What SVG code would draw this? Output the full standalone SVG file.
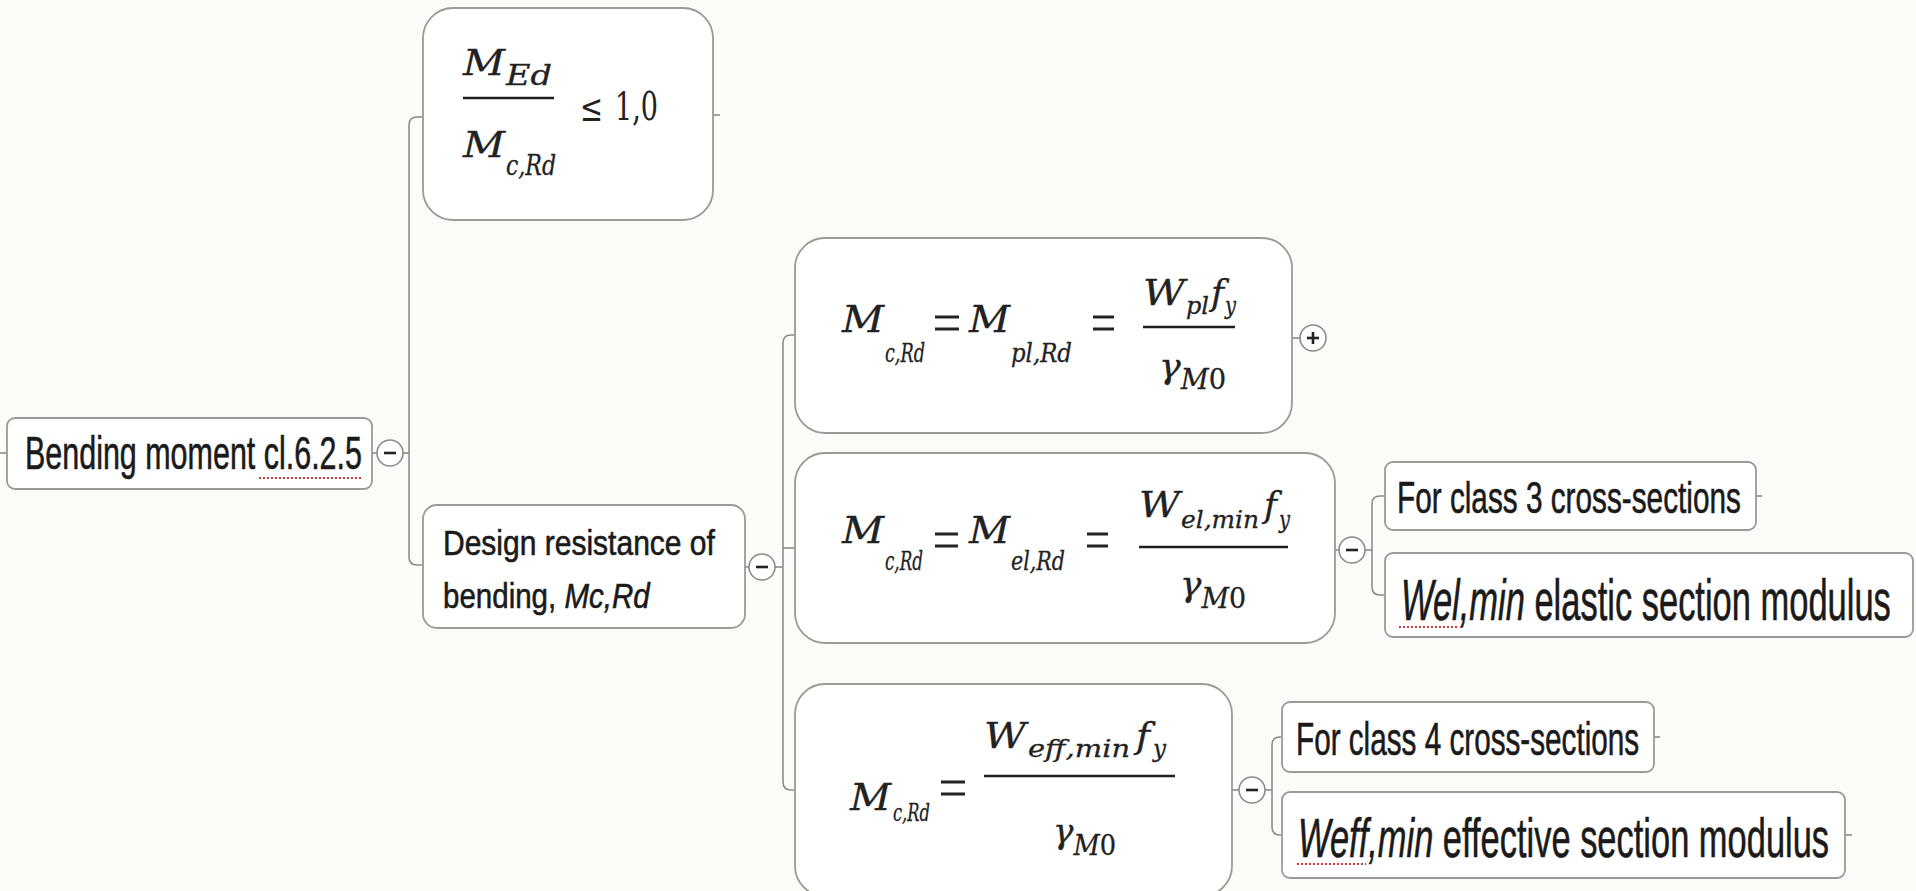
<svg xmlns="http://www.w3.org/2000/svg" width="1916" height="891" viewBox="0 0 1916 891">
<style>
.bg{fill:#fbfbf7}
.box{fill:#ffffff;stroke:#9a9a9a;stroke-width:1.8}
.ln{fill:none;stroke:#8c8c8c;stroke-width:1.6}
.cir{fill:#ffffff;stroke:#8c8c8c;stroke-width:1.6}
.sym{stroke:#222;stroke-width:2.6}
.t{font-family:"Liberation Sans",Arial,sans-serif;fill:#1a1a1a;stroke:#1a1a1a;stroke-width:0.6}
.m{font-family:"DejaVu Serif","Liberation Serif",serif;font-style:italic;fill:#222;stroke:#222;stroke-width:0.3}
.r{font-family:"DejaVu Serif","Liberation Serif",serif;fill:#222}
.fl{stroke:#1e1e1e;stroke-width:2.4}
.eq{stroke:#222;stroke-width:3}
.sp{fill:none;stroke:#d23a3a;stroke-width:2;stroke-dasharray:2 2}
</style>
<rect class="bg" x="0" y="0" width="1916" height="891"/>

<g id="connectors">
  <line class="ln" x1="0" y1="453" x2="7" y2="453"/>
  <line class="ln" x1="372" y1="453" x2="377" y2="453"/>
  <line class="ln" x1="403" y1="453" x2="409" y2="453"/>
  <path class="ln" d="M422 117 H417 Q409 117 409 125 V557 Q409 565 417 565 H422"/>
  <line class="ln" x1="713" y1="115" x2="720" y2="115"/>
  <line class="ln" x1="745" y1="567" x2="749" y2="567"/>
  <line class="ln" x1="775" y1="567" x2="783" y2="567"/>
  <path class="ln" d="M795 335 H791 Q783 335 783 343 V782 Q783 790 791 790 H795"/>
  <line class="ln" x1="783" y1="548" x2="795" y2="548"/>
  <line class="ln" x1="1292" y1="338" x2="1300" y2="338"/>
  <line class="ln" x1="1335" y1="550" x2="1339" y2="550"/>
  <line class="ln" x1="1365" y1="550" x2="1372" y2="550"/>
  <path class="ln" d="M1385 496 H1380 Q1372 496 1372 504 V587 Q1372 595 1380 595 H1385"/>
  <line class="ln" x1="1756" y1="496" x2="1762" y2="496"/>
  <line class="ln" x1="1232" y1="790" x2="1239" y2="790"/>
  <line class="ln" x1="1265" y1="790" x2="1272" y2="790"/>
  <path class="ln" d="M1282 737 H1280 Q1272 737 1272 745 V827 Q1272 835 1280 835 H1282"/>
  <line class="ln" x1="1654" y1="737" x2="1660" y2="737"/>
  <line class="ln" x1="1845" y1="835" x2="1852" y2="835"/>
</g>

<g id="toggles">
  <g id="toggle-root"><circle class="cir" cx="390" cy="453" r="13"/><line class="sym" x1="384" y1="453" x2="396" y2="453"/></g>
  <g id="toggle-design"><circle class="cir" cx="762" cy="567" r="13"/><line class="sym" x1="756" y1="567" x2="768" y2="567"/></g>
  <g id="toggle-f1"><circle class="cir" cx="1313" cy="338" r="13"/><line class="sym" x1="1307" y1="338" x2="1319" y2="338"/><line class="sym" x1="1313" y1="332" x2="1313" y2="344"/></g>
  <g id="toggle-f2"><circle class="cir" cx="1352" cy="550" r="13"/><line class="sym" x1="1346" y1="550" x2="1358" y2="550"/></g>
  <g id="toggle-f3"><circle class="cir" cx="1252" cy="790" r="13"/><line class="sym" x1="1246" y1="790" x2="1258" y2="790"/></g>
</g>

<g id="root">
  <rect class="box" x="7" y="418" width="365" height="71" rx="8"/>
  <text class="t" transform="translate(25,469) scale(0.662,1)" font-size="46" textLength="509" lengthAdjust="spacingAndGlyphs">Bending moment cl.6.2.5</text>
  <line class="sp" x1="259" y1="478" x2="362" y2="478"/>
</g>

<g id="check">
  <rect class="box" x="423" y="8" width="290" height="212" rx="30"/>
  <text class="m" x="463" y="75" font-size="36" textLength="42" lengthAdjust="spacingAndGlyphs">M</text>
  <text class="m" x="506" y="85" font-size="27" textLength="46" lengthAdjust="spacingAndGlyphs">Ed</text>
  <line class="fl" x1="463" y1="98" x2="554" y2="98"/>
  <text class="m" x="463" y="157" font-size="36" textLength="42" lengthAdjust="spacingAndGlyphs">M</text>
  <text class="m" x="506" y="175" font-size="27" textLength="50" lengthAdjust="spacingAndGlyphs">c,Rd</text>
  <text class="r" x="580" y="121" font-size="38" textLength="23" lengthAdjust="spacingAndGlyphs">≤</text>
  <text class="r" x="615" y="120" font-size="40" textLength="43" lengthAdjust="spacingAndGlyphs">1,0</text>
</g>

<g id="design">
  <rect class="box" x="423" y="505" width="322" height="123" rx="14"/>
  <text class="t" transform="translate(443,555) scale(0.834,1)" font-size="36" textLength="326" lengthAdjust="spacingAndGlyphs">Design resistance of</text>
  <text class="t" transform="translate(443,608) scale(0.83,1)" font-size="36" textLength="249" lengthAdjust="spacingAndGlyphs">bending, <tspan font-style="italic">Mc,Rd</tspan></text>
</g>

<g id="plastic">
  <rect class="box" x="795" y="238" width="497" height="195" rx="30"/>
  <text class="m" x="842" y="332" font-size="37" textLength="42" lengthAdjust="spacingAndGlyphs">M</text>
  <text class="m" x="885" y="362" font-size="26" textLength="40" lengthAdjust="spacingAndGlyphs">c,Rd</text>
  <path class="eq" d="M935 317 H959 M935 329 H959"/>
  <text class="m" x="969" y="332" font-size="37" textLength="41" lengthAdjust="spacingAndGlyphs">M</text>
  <text class="m" x="1011" y="362" font-size="26" textLength="61" lengthAdjust="spacingAndGlyphs">pl,Rd</text>
  <path class="eq" d="M1093 317 H1114 M1093 329 H1114"/>
  <text class="m" x="1143" y="305" font-size="36" textLength="42" lengthAdjust="spacingAndGlyphs">W</text>
  <text class="m" x="1186" y="314" font-size="25" textLength="23" lengthAdjust="spacingAndGlyphs">pl</text>
  <text class="m" x="1211" y="305" font-size="36" textLength="13" lengthAdjust="spacingAndGlyphs">f</text>
  <text class="m" x="1225" y="314" font-size="25" textLength="11" lengthAdjust="spacingAndGlyphs">y</text>
  <line class="fl" x1="1143" y1="327" x2="1235" y2="327"/>
  <text class="m" x="1159" y="378" font-size="36" textLength="67" lengthAdjust="spacingAndGlyphs">γ<tspan dy="11" font-size="27">M</tspan><tspan font-size="27" font-style="normal">0</tspan></text>
</g>

<g id="elastic">
  <rect class="box" x="795" y="453" width="540" height="190" rx="30"/>
  <text class="m" x="842" y="543" font-size="37" textLength="42" lengthAdjust="spacingAndGlyphs">M</text>
  <text class="m" x="885" y="570" font-size="26" textLength="38" lengthAdjust="spacingAndGlyphs">c,Rd</text>
  <path class="eq" d="M935 534 H958 M935 546 H958"/>
  <text class="m" x="969" y="543" font-size="37" textLength="41" lengthAdjust="spacingAndGlyphs">M</text>
  <text class="m" x="1011" y="570" font-size="26" textLength="54" lengthAdjust="spacingAndGlyphs">el,Rd</text>
  <path class="eq" d="M1087 534 H1108 M1087 546 H1108"/>
  <text class="m" x="1139" y="517" font-size="36" textLength="41" lengthAdjust="spacingAndGlyphs">W</text>
  <text class="m" x="1181" y="528" font-size="25" textLength="78" lengthAdjust="spacingAndGlyphs">el,min</text>
  <text class="m" x="1264" y="517" font-size="36" textLength="13" lengthAdjust="spacingAndGlyphs">f</text>
  <text class="m" x="1279" y="528" font-size="25" textLength="11" lengthAdjust="spacingAndGlyphs">y</text>
  <line class="fl" x1="1139" y1="547" x2="1288" y2="547"/>
  <text class="m" x="1180" y="596" font-size="36" textLength="66" lengthAdjust="spacingAndGlyphs">γ<tspan dy="12" font-size="27">M</tspan><tspan font-size="27" font-style="normal">0</tspan></text>
</g>

<g id="effective">
  <rect class="box" x="795" y="684" width="437" height="212" rx="30"/>
  <text class="m" x="850" y="810" font-size="37" textLength="41" lengthAdjust="spacingAndGlyphs">M</text>
  <text class="m" x="893" y="821" font-size="25" textLength="37" lengthAdjust="spacingAndGlyphs">c,Rd</text>
  <path class="eq" d="M941 782 H965 M941 794 H965"/>
  <text class="m" x="984" y="748" font-size="36" textLength="42" lengthAdjust="spacingAndGlyphs">W</text>
  <text class="m" x="1028" y="757" font-size="25" textLength="102" lengthAdjust="spacingAndGlyphs">eff,min</text>
  <text class="m" x="1136" y="748" font-size="36" textLength="14" lengthAdjust="spacingAndGlyphs">f</text>
  <text class="m" x="1153" y="757" font-size="25" textLength="13" lengthAdjust="spacingAndGlyphs">y</text>
  <line class="fl" x1="984" y1="776" x2="1175" y2="776"/>
  <text class="m" x="1053" y="843" font-size="36" textLength="63" lengthAdjust="spacingAndGlyphs">γ<tspan dy="12" font-size="27">M</tspan><tspan font-size="27" font-style="normal">0</tspan></text>
</g>

<g id="class3">
  <rect class="box" x="1385" y="462" width="371" height="68" rx="8"/>
  <text class="t" transform="translate(1397,513) scale(0.66,1)" font-size="45" textLength="521" lengthAdjust="spacingAndGlyphs">For class 3 cross-sections</text>
</g>

<g id="wel">
  <rect class="box" x="1385" y="553" width="528" height="84" rx="8"/>
  <text class="t" transform="translate(1401,620) scale(0.604,1)" font-size="57" textLength="811" lengthAdjust="spacingAndGlyphs"><tspan font-style="italic">Wel,min</tspan> elastic section modulus</text>
  <line class="sp" x1="1399" y1="627" x2="1459" y2="627"/>
</g>

<g id="class4">
  <rect class="box" x="1282" y="702" width="372" height="70" rx="8"/>
  <text class="t" transform="translate(1296,755) scale(0.645,1)" font-size="46" textLength="532" lengthAdjust="spacingAndGlyphs">For class 4 cross-sections</text>
</g>

<g id="weff">
  <rect class="box" x="1282" y="792" width="563" height="86" rx="8"/>
  <text class="t" transform="translate(1298,857) scale(0.614,1)" font-size="56" textLength="865" lengthAdjust="spacingAndGlyphs"><tspan font-style="italic">Weff,min</tspan> effective section modulus</text>
  <line class="sp" x1="1297" y1="864" x2="1366" y2="864"/>
</g>
</svg>
